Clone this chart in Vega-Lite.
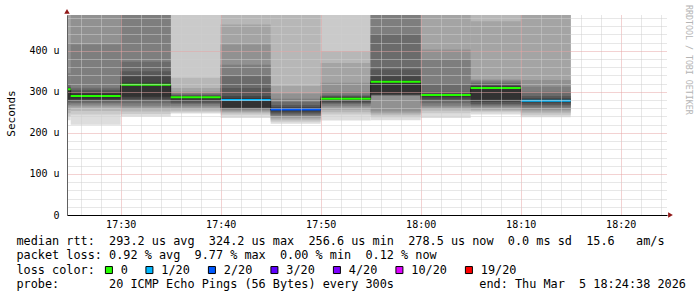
{
  "$schema": "https://vega.github.io/schema/vega-lite/v6.json",
  "width": 600,
  "height": 200,
  "autosize": {"type": "none"},
  "padding": {"left": 67, "top": 15, "right": 30, "bottom": 82},
  "background": "white",
  "config": {"view": {"stroke": null}, "font": "DejaVu Sans Mono"},
  "title": {"text": "RRDTOOL / TOBI OETIKER", "orient": "right", "anchor": "start", "font": "DejaVu Sans Mono", "fontSize": 8.3, "fontWeight": "normal", "color": "#b4b4b4", "offset": -1, "dx": -4},
  "datasets": {
    "segs": [
      {"t": "2026-03-05T17:20:00Z", "t2": "2026-03-05T17:25:00Z", "m": 306, "loss": "0"},
      {"t": "2026-03-05T17:25:00Z", "t2": "2026-03-05T17:30:00Z", "m": 290, "loss": "0"},
      {"t": "2026-03-05T17:30:00Z", "t2": "2026-03-05T17:35:00Z", "m": 317, "loss": "0"},
      {"t": "2026-03-05T17:35:00Z", "t2": "2026-03-05T17:40:00Z", "m": 287, "loss": "0"},
      {"t": "2026-03-05T17:40:00Z", "t2": "2026-03-05T17:45:00Z", "m": 280, "loss": "1/20"},
      {"t": "2026-03-05T17:45:00Z", "t2": "2026-03-05T17:50:00Z", "m": 256.6, "loss": "2/20"},
      {"t": "2026-03-05T17:50:00Z", "t2": "2026-03-05T17:55:00Z", "m": 283, "loss": "0"},
      {"t": "2026-03-05T17:55:00Z", "t2": "2026-03-05T18:00:00Z", "m": 324.2, "loss": "0"},
      {"t": "2026-03-05T18:00:00Z", "t2": "2026-03-05T18:05:00Z", "m": 292, "loss": "0"},
      {"t": "2026-03-05T18:05:00Z", "t2": "2026-03-05T18:10:00Z", "m": 309, "loss": "0"},
      {"t": "2026-03-05T18:10:00Z", "t2": "2026-03-05T18:15:00Z", "m": 278.5, "loss": "1/20"}
    ],
    "bands": [
      {"t":"2026-03-05T17:20:00Z","t2":"2026-03-05T17:25:00Z","b":1,"lo":231,"hi":487},{"t":"2026-03-05T17:20:00Z","t2":"2026-03-05T17:25:00Z","b":2,"lo":240,"hi":487},{"t":"2026-03-05T17:20:00Z","t2":"2026-03-05T17:25:00Z","b":3,"lo":248,"hi":487},{"t":"2026-03-05T17:20:00Z","t2":"2026-03-05T17:25:00Z","b":4,"lo":256,"hi":487},{"t":"2026-03-05T17:20:00Z","t2":"2026-03-05T17:25:00Z","b":5,"lo":264,"hi":418},{"t":"2026-03-05T17:20:00Z","t2":"2026-03-05T17:25:00Z","b":6,"lo":268,"hi":345},{"t":"2026-03-05T17:20:00Z","t2":"2026-03-05T17:25:00Z","b":7,"lo":272,"hi":317},{"t":"2026-03-05T17:20:00Z","t2":"2026-03-05T17:25:00Z","b":8,"lo":276,"hi":312},{"t":"2026-03-05T17:20:00Z","t2":"2026-03-05T17:25:00Z","b":9,"lo":279,"hi":310},{"t":"2026-03-05T17:20:00Z","t2":"2026-03-05T17:25:00Z","b":10,"lo":282,"hi":308},
      {"t":"2026-03-05T17:25:00Z","t2":"2026-03-05T17:30:00Z","b":1,"lo":220,"hi":487},{"t":"2026-03-05T17:25:00Z","t2":"2026-03-05T17:30:00Z","b":2,"lo":245,"hi":487},{"t":"2026-03-05T17:25:00Z","t2":"2026-03-05T17:30:00Z","b":3,"lo":253,"hi":487},{"t":"2026-03-05T17:25:00Z","t2":"2026-03-05T17:30:00Z","b":4,"lo":261,"hi":487},{"t":"2026-03-05T17:25:00Z","t2":"2026-03-05T17:30:00Z","b":5,"lo":265,"hi":487},{"t":"2026-03-05T17:25:00Z","t2":"2026-03-05T17:30:00Z","b":6,"lo":269,"hi":415},{"t":"2026-03-05T17:25:00Z","t2":"2026-03-05T17:30:00Z","b":7,"lo":273,"hi":310},{"t":"2026-03-05T17:25:00Z","t2":"2026-03-05T17:30:00Z","b":8,"lo":277,"hi":305},{"t":"2026-03-05T17:25:00Z","t2":"2026-03-05T17:30:00Z","b":9,"lo":280,"hi":300},{"t":"2026-03-05T17:25:00Z","t2":"2026-03-05T17:30:00Z","b":10,"lo":283,"hi":296},
      {"t":"2026-03-05T17:30:00Z","t2":"2026-03-05T17:35:00Z","b":1,"lo":240,"hi":487},{"t":"2026-03-05T17:30:00Z","t2":"2026-03-05T17:35:00Z","b":2,"lo":246,"hi":487},{"t":"2026-03-05T17:30:00Z","t2":"2026-03-05T17:35:00Z","b":3,"lo":252,"hi":487},{"t":"2026-03-05T17:30:00Z","t2":"2026-03-05T17:35:00Z","b":4,"lo":258,"hi":487},{"t":"2026-03-05T17:30:00Z","t2":"2026-03-05T17:35:00Z","b":5,"lo":262,"hi":487},{"t":"2026-03-05T17:30:00Z","t2":"2026-03-05T17:35:00Z","b":6,"lo":266,"hi":487},{"t":"2026-03-05T17:30:00Z","t2":"2026-03-05T17:35:00Z","b":7,"lo":272,"hi":373},{"t":"2026-03-05T17:30:00Z","t2":"2026-03-05T17:35:00Z","b":8,"lo":278,"hi":350},{"t":"2026-03-05T17:30:00Z","t2":"2026-03-05T17:35:00Z","b":9,"lo":283,"hi":337},{"t":"2026-03-05T17:30:00Z","t2":"2026-03-05T17:35:00Z","b":10,"lo":288,"hi":322},
      {"t":"2026-03-05T17:35:00Z","t2":"2026-03-05T17:40:00Z","b":1,"lo":247,"hi":487},{"t":"2026-03-05T17:35:00Z","t2":"2026-03-05T17:40:00Z","b":2,"lo":250,"hi":487},{"t":"2026-03-05T17:35:00Z","t2":"2026-03-05T17:40:00Z","b":3,"lo":254,"hi":334},{"t":"2026-03-05T17:35:00Z","t2":"2026-03-05T17:40:00Z","b":4,"lo":258,"hi":309},{"t":"2026-03-05T17:35:00Z","t2":"2026-03-05T17:40:00Z","b":5,"lo":262,"hi":301},{"t":"2026-03-05T17:35:00Z","t2":"2026-03-05T17:40:00Z","b":6,"lo":266,"hi":297},{"t":"2026-03-05T17:35:00Z","t2":"2026-03-05T17:40:00Z","b":7,"lo":270,"hi":294},{"t":"2026-03-05T17:35:00Z","t2":"2026-03-05T17:40:00Z","b":8,"lo":273,"hi":292},{"t":"2026-03-05T17:35:00Z","t2":"2026-03-05T17:40:00Z","b":9,"lo":277,"hi":290},{"t":"2026-03-05T17:35:00Z","t2":"2026-03-05T17:40:00Z","b":10,"lo":281,"hi":288},
      {"t":"2026-03-05T17:40:00Z","t2":"2026-03-05T17:45:00Z","b":1,"lo":236,"hi":487},{"t":"2026-03-05T17:40:00Z","t2":"2026-03-05T17:45:00Z","b":2,"lo":244,"hi":487},{"t":"2026-03-05T17:40:00Z","t2":"2026-03-05T17:45:00Z","b":3,"lo":248,"hi":487},{"t":"2026-03-05T17:40:00Z","t2":"2026-03-05T17:45:00Z","b":4,"lo":251,"hi":464},{"t":"2026-03-05T17:40:00Z","t2":"2026-03-05T17:45:00Z","b":5,"lo":254,"hi":415},{"t":"2026-03-05T17:40:00Z","t2":"2026-03-05T17:45:00Z","b":6,"lo":257,"hi":366},{"t":"2026-03-05T17:40:00Z","t2":"2026-03-05T17:45:00Z","b":7,"lo":258,"hi":338},{"t":"2026-03-05T17:40:00Z","t2":"2026-03-05T17:45:00Z","b":8,"lo":260,"hi":309},{"t":"2026-03-05T17:40:00Z","t2":"2026-03-05T17:45:00Z","b":9,"lo":261,"hi":290},{"t":"2026-03-05T17:40:00Z","t2":"2026-03-05T17:45:00Z","b":10,"lo":262,"hi":284},
      {"t":"2026-03-05T17:45:00Z","t2":"2026-03-05T17:50:00Z","b":1,"lo":222,"hi":487},{"t":"2026-03-05T17:45:00Z","t2":"2026-03-05T17:50:00Z","b":2,"lo":227,"hi":487},{"t":"2026-03-05T17:45:00Z","t2":"2026-03-05T17:50:00Z","b":3,"lo":231,"hi":487},{"t":"2026-03-05T17:45:00Z","t2":"2026-03-05T17:50:00Z","b":4,"lo":235,"hi":314},{"t":"2026-03-05T17:45:00Z","t2":"2026-03-05T17:50:00Z","b":5,"lo":238,"hi":296},{"t":"2026-03-05T17:45:00Z","t2":"2026-03-05T17:50:00Z","b":6,"lo":241,"hi":283},{"t":"2026-03-05T17:45:00Z","t2":"2026-03-05T17:50:00Z","b":7,"lo":244,"hi":275},{"t":"2026-03-05T17:45:00Z","t2":"2026-03-05T17:50:00Z","b":8,"lo":247,"hi":268},{"t":"2026-03-05T17:45:00Z","t2":"2026-03-05T17:50:00Z","b":9,"lo":250,"hi":263},{"t":"2026-03-05T17:45:00Z","t2":"2026-03-05T17:50:00Z","b":10,"lo":253,"hi":260},
      {"t":"2026-03-05T17:50:00Z","t2":"2026-03-05T17:55:00Z","b":1,"lo":230,"hi":487},{"t":"2026-03-05T17:50:00Z","t2":"2026-03-05T17:55:00Z","b":2,"lo":245,"hi":487},{"t":"2026-03-05T17:50:00Z","t2":"2026-03-05T17:55:00Z","b":3,"lo":250,"hi":399},{"t":"2026-03-05T17:50:00Z","t2":"2026-03-05T17:55:00Z","b":4,"lo":256,"hi":370},{"t":"2026-03-05T17:50:00Z","t2":"2026-03-05T17:55:00Z","b":5,"lo":262,"hi":322},{"t":"2026-03-05T17:50:00Z","t2":"2026-03-05T17:55:00Z","b":6,"lo":266,"hi":300},{"t":"2026-03-05T17:50:00Z","t2":"2026-03-05T17:55:00Z","b":7,"lo":270,"hi":293},{"t":"2026-03-05T17:50:00Z","t2":"2026-03-05T17:55:00Z","b":8,"lo":273,"hi":290},{"t":"2026-03-05T17:50:00Z","t2":"2026-03-05T17:55:00Z","b":9,"lo":276,"hi":288},{"t":"2026-03-05T17:50:00Z","t2":"2026-03-05T17:55:00Z","b":10,"lo":280,"hi":286},
      {"t":"2026-03-05T17:55:00Z","t2":"2026-03-05T18:00:00Z","b":1,"lo":231,"hi":487},{"t":"2026-03-05T17:55:00Z","t2":"2026-03-05T18:00:00Z","b":2,"lo":238,"hi":487},{"t":"2026-03-05T17:55:00Z","t2":"2026-03-05T18:00:00Z","b":3,"lo":244,"hi":487},{"t":"2026-03-05T17:55:00Z","t2":"2026-03-05T18:00:00Z","b":4,"lo":248,"hi":487},{"t":"2026-03-05T17:55:00Z","t2":"2026-03-05T18:00:00Z","b":5,"lo":252,"hi":487},{"t":"2026-03-05T17:55:00Z","t2":"2026-03-05T18:00:00Z","b":6,"lo":290,"hi":487},{"t":"2026-03-05T17:55:00Z","t2":"2026-03-05T18:00:00Z","b":7,"lo":291,"hi":441},{"t":"2026-03-05T17:55:00Z","t2":"2026-03-05T18:00:00Z","b":8,"lo":292,"hi":354},{"t":"2026-03-05T17:55:00Z","t2":"2026-03-05T18:00:00Z","b":9,"lo":293,"hi":338},{"t":"2026-03-05T17:55:00Z","t2":"2026-03-05T18:00:00Z","b":10,"lo":294,"hi":328},
      {"t":"2026-03-05T18:00:00Z","t2":"2026-03-05T18:05:00Z","b":1,"lo":236,"hi":487},{"t":"2026-03-05T18:00:00Z","t2":"2026-03-05T18:05:00Z","b":2,"lo":248,"hi":487},{"t":"2026-03-05T18:00:00Z","t2":"2026-03-05T18:05:00Z","b":3,"lo":254,"hi":487},{"t":"2026-03-05T18:00:00Z","t2":"2026-03-05T18:05:00Z","b":4,"lo":258,"hi":487},{"t":"2026-03-05T18:00:00Z","t2":"2026-03-05T18:05:00Z","b":5,"lo":262,"hi":403},{"t":"2026-03-05T18:00:00Z","t2":"2026-03-05T18:05:00Z","b":6,"lo":266,"hi":378},{"t":"2026-03-05T18:00:00Z","t2":"2026-03-05T18:05:00Z","b":7,"lo":272,"hi":317},{"t":"2026-03-05T18:00:00Z","t2":"2026-03-05T18:05:00Z","b":8,"lo":278,"hi":300},{"t":"2026-03-05T18:00:00Z","t2":"2026-03-05T18:05:00Z","b":9,"lo":283,"hi":296},{"t":"2026-03-05T18:00:00Z","t2":"2026-03-05T18:05:00Z","b":10,"lo":288,"hi":294},
      {"t":"2026-03-05T18:05:00Z","t2":"2026-03-05T18:10:00Z","b":1,"lo":245,"hi":487},{"t":"2026-03-05T18:05:00Z","t2":"2026-03-05T18:10:00Z","b":2,"lo":250,"hi":487},{"t":"2026-03-05T18:05:00Z","t2":"2026-03-05T18:10:00Z","b":3,"lo":253,"hi":487},{"t":"2026-03-05T18:05:00Z","t2":"2026-03-05T18:10:00Z","b":4,"lo":256,"hi":472},{"t":"2026-03-05T18:05:00Z","t2":"2026-03-05T18:10:00Z","b":5,"lo":261,"hi":330},{"t":"2026-03-05T18:05:00Z","t2":"2026-03-05T18:10:00Z","b":6,"lo":264,"hi":327},{"t":"2026-03-05T18:05:00Z","t2":"2026-03-05T18:10:00Z","b":7,"lo":267,"hi":322},{"t":"2026-03-05T18:05:00Z","t2":"2026-03-05T18:10:00Z","b":8,"lo":270,"hi":318},{"t":"2026-03-05T18:05:00Z","t2":"2026-03-05T18:10:00Z","b":9,"lo":275,"hi":314},{"t":"2026-03-05T18:05:00Z","t2":"2026-03-05T18:10:00Z","b":10,"lo":281,"hi":313},
      {"t":"2026-03-05T18:10:00Z","t2":"2026-03-05T18:15:00Z","b":1,"lo":238,"hi":487},{"t":"2026-03-05T18:10:00Z","t2":"2026-03-05T18:15:00Z","b":2,"lo":243,"hi":487},{"t":"2026-03-05T18:10:00Z","t2":"2026-03-05T18:15:00Z","b":3,"lo":248,"hi":487},{"t":"2026-03-05T18:10:00Z","t2":"2026-03-05T18:15:00Z","b":4,"lo":252,"hi":487},{"t":"2026-03-05T18:10:00Z","t2":"2026-03-05T18:15:00Z","b":5,"lo":256,"hi":329},{"t":"2026-03-05T18:10:00Z","t2":"2026-03-05T18:15:00Z","b":6,"lo":260,"hi":312},{"t":"2026-03-05T18:10:00Z","t2":"2026-03-05T18:15:00Z","b":7,"lo":264,"hi":300},{"t":"2026-03-05T18:10:00Z","t2":"2026-03-05T18:15:00Z","b":8,"lo":268,"hi":290},{"t":"2026-03-05T18:10:00Z","t2":"2026-03-05T18:15:00Z","b":9,"lo":272,"hi":284},{"t":"2026-03-05T18:10:00Z","t2":"2026-03-05T18:15:00Z","b":10,"lo":276,"hi":281}
    ],
    "one": [{"k": 1}]
  },
  "resolve": {"scale": {"color": "independent"}, "axis": {"x": "independent", "y": "independent"}},
  "layer": [
    {
      "data": {"name": "bands"},
      "mark": {"type": "rect", "clip": true},
      "encoding": {
        "x": {
          "field": "t", "type": "temporal",
          "scale": {"type": "utc", "domain": [{"year": 2026, "month": 3, "date": 5, "hours": 17, "minutes": 24, "seconds": 38, "utc": true}, {"year": 2026, "month": 3, "date": 5, "hours": 18, "minutes": 24, "seconds": 38, "utc": true}]},
          "axis": {
            "orient": "bottom",
            "values": [1772731560000, 1772731680000, 1772731800000, 1772731920000, 1772732040000, 1772732160000, 1772732280000, 1772732400000, 1772732520000, 1772732640000, 1772732760000, 1772732880000, 1772733000000, 1772733120000, 1772733240000, 1772733360000, 1772733480000, 1772733600000, 1772733720000, 1772733840000, 1772733960000, 1772734080000, 1772734200000, 1772734320000, 1772734440000, 1772734560000, 1772734680000, 1772734800000, 1772734920000, 1772735040000],
            "labelExpr": "(datum.value / 60000) % 10 === 0 ? utcFormat(datum.value, '%H:%M') : ''",
            "labelFont": "DejaVu Sans Mono", "labelFontSize": 10, "labelColor": "#000000", "labelPadding": 4,
            "labelFlush": false, "labelOverlap": false,
            "ticks": false,
            "domainColor": "#000000", "domainWidth": 1,
            "grid": true,
            "gridColor": {"condition": {"test": "(datum.value / 60000) % 10 === 0", "value": "#e6a4a4"}, "value": "#cfcfcf"},
            "gridDash": [1, 1],
            "zindex": 1,
            "title": [
              "median\u00a0rtt:\u00a0\u00a0293.2\u00a0us\u00a0avg\u00a0\u00a0324.2\u00a0us\u00a0max\u00a0\u00a0256.6\u00a0us\u00a0min\u00a0\u00a0278.5\u00a0us\u00a0now\u00a0\u00a00.0\u00a0ms\u00a0sd\u00a0\u00a015.6\u00a0\u00a0\u00a0am/s",
              "packet\u00a0loss:\u00a00.92\u00a0%\u00a0avg\u00a0\u00a09.77\u00a0%\u00a0max\u00a0\u00a00.00\u00a0%\u00a0min\u00a0\u00a00.12\u00a0%\u00a0now",
              "loss\u00a0color:",
              "probe:\u00a0\u00a0\u00a0\u00a0\u00a0\u00a0\u00a020\u00a0ICMP\u00a0Echo\u00a0Pings\u00a0(56\u00a0Bytes)\u00a0every\u00a0300s\u00a0\u00a0\u00a0\u00a0\u00a0\u00a0\u00a0\u00a0\u00a0\u00a0\u00a0\u00a0end:\u00a0Thu\u00a0Mar\u00a0\u00a05\u00a018:24:38\u00a02026"
            ],
            "titleFont": "DejaVu Sans Mono", "titleFontSize": 11.83, "titleFontWeight": "normal", "titleColor": "#000000",
            "titleAlign": "left", "titleAnchor": "start", "titleBaseline": "alphabetic",
            "titleX": -51, "titleY": 29.5, "titleLineHeight": 14.3
          }
        },
        "x2": {"field": "t2"},
        "y": {
          "field": "lo", "type": "quantitative",
          "scale": {"domain": [0, 487], "nice": false, "zero": true},
          "axis": {
            "orient": "left",
            "values": [0, 20, 40, 60, 80, 100, 120, 140, 160, 180, 200, 220, 240, 260, 280, 300, 320, 340, 360, 380, 400, 420, 440, 460, 480],
            "labelExpr": "datum.value === 0 ? '0\u00a0\u00a0' : (datum.value % 100 === 0 ? datum.value + '\u00a0u' : '')",
            "labelFont": "DejaVu Sans Mono", "labelFontSize": 10, "labelColor": "#000000", "labelPadding": 8,
            "labelOverlap": false, "labelFlush": false,
            "ticks": false,
            "domainColor": "#606060", "domainWidth": 1,
            "grid": true,
            "gridColor": {"condition": {"test": "datum.value % 100 === 0", "value": "#e6a4a4"}, "value": "#cfcfcf"},
            "gridDash": [1, 1],
            "zindex": 1,
            "title": "Seconds",
            "titleFont": "DejaVu Sans Mono", "titleFontSize": 11, "titleFontWeight": "normal", "titleColor": "#000000",
            "titleX": -56, "titleY": 98, "titleAlign": "center", "titleBaseline": "middle", "titleAngle": -90
          }
        },
        "y2": {"field": "hi"},
        "color": {
          "field": "b", "type": "ordinal",
          "scale": {"domain": [1, 2, 3, 4, 5, 6, 7, 8, 9, 10], "range": ["#dddddd", "#cacaca", "#b7b7b7", "#a4a4a4", "#919191", "#7e7e7e", "#6b6b6b", "#585858", "#454545", "#323232"]},
          "legend": null
        },
        "order": {"field": "b", "type": "quantitative"}
      }
    },
    {
      "data": {"name": "segs"},
      "mark": {"type": "line", "interpolate": "step-after", "clip": true, "color": "#202020", "strokeWidth": 1},
      "encoding": {
        "x": {"field": "t", "type": "temporal", "axis": null},
        "y": {"field": "m", "type": "quantitative", "axis": null}
      }
    },
    {
      "data": {"name": "segs"},
      "mark": {"type": "rect", "clip": true, "strokeWidth": 2},
      "encoding": {
        "x": {"field": "t", "type": "temporal", "axis": null},
        "x2": {"field": "t2"},
        "y": {"field": "m", "type": "quantitative", "axis": null},
        "y2": {"field": "m"},
        "color": {
          "field": "loss", "type": "nominal",
          "scale": {"domain": ["0", "1/20", "2/20", "3/20", "4/20", "10/20", "19/20"], "range": ["#26ff00", "#00b8ff", "#0059ff", "#5e00ff", "#7e00ff", "#dd00ff", "#ff0000"]},
          "legend": {
            "orient": "none", "legendX": 36, "legendY": 249, "direction": "horizontal", "title": null,
            "symbolType": "square", "symbolSize": 49, "symbolStrokeColor": "#000000", "symbolStrokeWidth": 1, "symbolOpacity": 1,
            "labelFont": "DejaVu Sans Mono", "labelFontSize": 11.83, "labelColor": "#000000", "labelOffset": 6, "labelLimit": 0,
            "columnPadding": 15.5, "padding": 0
          }
        },
        "stroke": {
          "field": "loss", "type": "nominal",
          "scale": {"domain": ["0", "1/20", "2/20", "3/20", "4/20", "10/20", "19/20"], "range": ["#26ff00", "#00b8ff", "#0059ff", "#5e00ff", "#7e00ff", "#dd00ff", "#ff0000"]},
          "legend": null
        }
      }
    },
    {
      "data": {"name": "one"},
      "mark": {"type": "point", "shape": "triangle-right", "filled": true, "color": "#901818", "size": 30, "opacity": 1, "clip": false},
      "encoding": {
        "x": {"datum": {"year": 2026, "month": 3, "date": 5, "hours": 18, "minutes": 24, "seconds": 59, "utc": true}, "type": "temporal", "axis": null},
        "y": {"datum": 0, "type": "quantitative", "axis": null}
      }
    },
    {
      "data": {"name": "one"},
      "mark": {"type": "point", "shape": "triangle-up", "filled": true, "color": "#901818", "size": 30, "opacity": 1, "clip": false},
      "encoding": {
        "x": {"datum": {"year": 2026, "month": 3, "date": 5, "hours": 17, "minutes": 24, "seconds": 38, "utc": true}, "type": "temporal", "axis": null},
        "y": {"datum": 496, "type": "quantitative", "axis": null}
      }
    }
  ]
}
